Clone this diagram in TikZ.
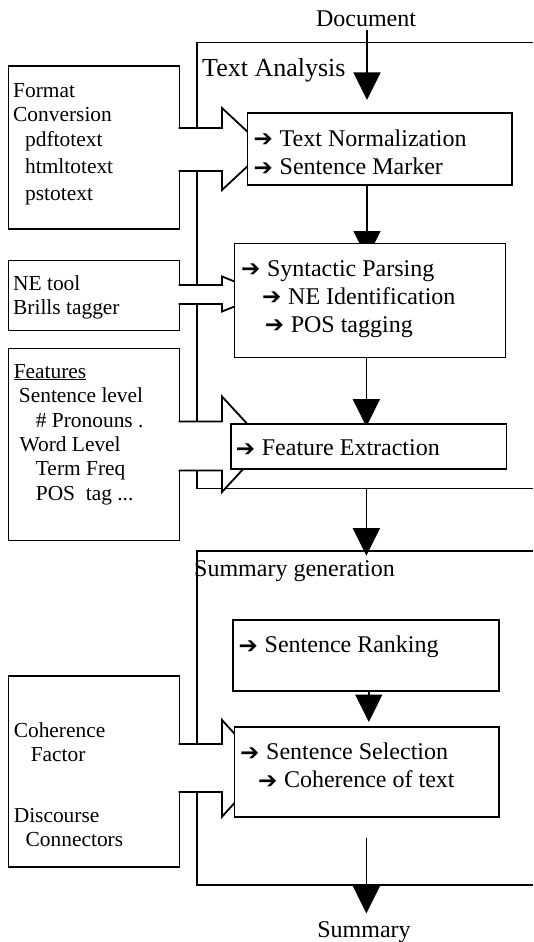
\documentclass[tikz,border=0pt]{standalone}
\usepackage{fontspec}
\setmainfont{Liberation Serif}
\newfontfamily\symfont{DejaVu Sans}
\usetikzlibrary{arrows.meta}

% bullet arrow in front of each step, text starts 26pt after it
\newcommand{\rarr}{\makebox[26pt][l]{\raisebox{-0.6pt}{\symfont\fontsize{23pt}{23pt}\selectfont ➔}}}

% open block arrow from a tool box into a step box:
% #1 shaft top, #2 shaft bottom, #3 head top, #4 head bottom
\newcommand{\inarrow}[4]{%
  \pgfmathsetmacro\tipy{(#3+#4)/2}%
  \fill[white] (178.5,#1) -- (222,#1) -- (222,#3) -- (266,\tipy) -- (222,#4) -- (222,#2) -- (178.5,#2) -- cycle;
  \draw[blk] (178.7,#1) -- (222,#1) -- (222,#3) -- (266,\tipy) -- (222,#4) -- (222,#2) -- (178.7,#2);
}

\pgfdeclarelayer{back}
\pgfsetlayers{back,main}

\begin{document}
\begin{tikzpicture}[x=1pt,y=-1pt,
  box/.style={draw, line width=1.8pt, fill=white, inner sep=0pt, outer sep=0pt, anchor=north west},
  txt/.style={anchor=base west, inner sep=0pt, font=\fontsize{24pt}{28pt}\selectfont},
  side/.style={anchor=base west, inner sep=0pt, font=\fontsize{21.4pt}{25pt}\selectfont},
  ttl/.style={inner sep=0pt, font=\fontsize{24pt}{28pt}\selectfont},
  frame/.style={line width=1.8pt},
  conn/.style={line width=1.4pt, -{Triangle[width=27pt,length=27.5pt]}},
  blk/.style={line width=1.8pt}
]
\useasboundingbox (0,0) rectangle (533,942);

% ---- step boxes ----
\node[box, minimum width=264.5pt, minimum height=72pt]  (tn) at (247.5,113)   {};
\node[box, minimum width=271pt,   minimum height=114pt] (sp) at (234.5,243.5) {};
\node[box, minimum width=275.5pt, minimum height=45pt]  (fe) at (231,424.3)   {};
\node[box, minimum width=266.2pt, minimum height=70.3pt] (sr) at (232.8,620.3) {};
\node[box, minimum width=264.5pt, minimum height=89.6pt] (ss) at (234.5,727)   {};

% ---- input / output labels ----
\node[ttl, anchor=base] (doc) at (366,27) {Document};
\node[ttl, anchor=base] (sum) at (364,937) {Summary};

\begin{pgfonlayer}{back}
  % stage frames
  \draw[frame] (533,42.5) -- (452,42.5);
  \draw[line width=0.8pt] (452,42.5) -- (280,42.5);
  \draw[frame] (280,42.5) -- (196.8,42.5) -- (196.8,488.5) -- (533,488.5);
  \draw[frame] (533,551.3) -- (196.8,551.3) -- (196.8,885) -- (533,885);

  % tool boxes
  \node[box, minimum width=171pt, minimum height=163pt]   (fmt)  at (8.5,66)    {};
  \node[box, minimum width=171pt, minimum height=70pt]    (ne)   at (8.5,260.5) {};
  \node[box, minimum width=171pt, minimum height=192pt]   (feat) at (8.5,348.5) {};
  \node[box, minimum width=171pt, minimum height=191.3pt] (coh)  at (8.5,675.7) {};

  % block arrows into the steps
  \inarrow{128}{171}{108}{190}
  \inarrow{285}{304}{276.5}{311.5}
  \inarrow{421.5}{470.5}{396.5}{492}
  \inarrow{744}{792}{720}{816.7}

  % flow connectors
  \coordinate (a1) at (367,0);
  \coordinate (a2) at (366.4,0);
  \coordinate (a3) at (368.8,0);
  \coordinate (tabot) at (366.4,488.5);
  \coordinate (sgtop) at (366.4,551.3);
  \draw[conn, shorten <=3pt, shorten >=13pt] (a1 |- doc.south) -- (a1 |- tn.north);
  \draw[conn, shorten >=-15pt] (a1 |- tn.south) -- (a1 |- sp.north);
  \draw[conn, shorten >=-2.4pt] (a2 |- sp.south) -- (a2 |- fe.north);
  \draw[conn, shorten >=-4.4pt] (tabot) -- (sgtop);
  \draw[conn, shorten >=5pt] (a3 |- sr.south) -- (a3 |- ss.north);
  \draw[conn, shorten <=21pt, shorten >=7.5pt] (a2 |- ss.south) -- (a2 |- sum.north);
\end{pgfonlayer}

% ---- stage titles ----
\node[anchor=base west, inner sep=0pt, font=\fontsize{26pt}{30pt}\selectfont] (ta) at (202,76.5) {Text Analysis};
\node[txt] (sg) at (194,576) {Summary generation};

% ---- step texts ----
\node[txt] (tn1) at (253.5,146)   {\rarr Text Normalization};
\node[txt] (tn2) at (253.5,174.5) {\rarr Sentence Marker};
\node[txt] (sp1) at (240.8,276)   {\rarr Syntactic Parsing};
\node[txt] (sp2) at (262,304)     {\rarr NE Identification};
\node[txt] (sp3) at (264.6,332)   {\rarr POS tagging};
\node[txt] (fe1) at (235.7,455.6) {\rarr Feature Extraction};
\node[txt] (sr1) at (238.5,652.6) {\rarr Sentence Ranking};
\node[txt] (ss1) at (240,759.5)   {\rarr Sentence Selection};
\node[txt] (ss2) at (257.8,787.7) {\rarr Coherence of text};

% ---- tool texts ----
\node[side] (f1) at (13,97)    {Format};
\node[side] (f2) at (13,121)   {Conversion};
\node[side] (f3) at (25,146)   {pdftotext};
\node[side] (f4) at (25,173.5) {htmltotext};
\node[side] (f5) at (25,200.5) {pstotext};

\node[side] (n1) at (13,290.5) {NE tool};
\node[side] (n2) at (13,314)   {Brills tagger};

\node[side] (e1) at (13.6,378) {\underline{Features}};
\node[side] (e2) at (18.7,402) {Sentence level};
\node[side] (e3) at (35.7,427) {\# Pronouns .};
\node[side] (e4) at (19.4,451) {Word Level};
\node[side] (e5) at (35.7,475) {Term Freq};
\node[side] (e6) at (35.7,500) {POS\ \ tag ...};

\node[side] (c1) at (13.6,737.4) {Coherence};
\node[side] (c2) at (30.6,761)   {Factor};
\node[side] (c3) at (13.6,822)   {Discourse};
\node[side] (c4) at (25.5,846)   {Connectors};
\end{tikzpicture}
\end{document}
